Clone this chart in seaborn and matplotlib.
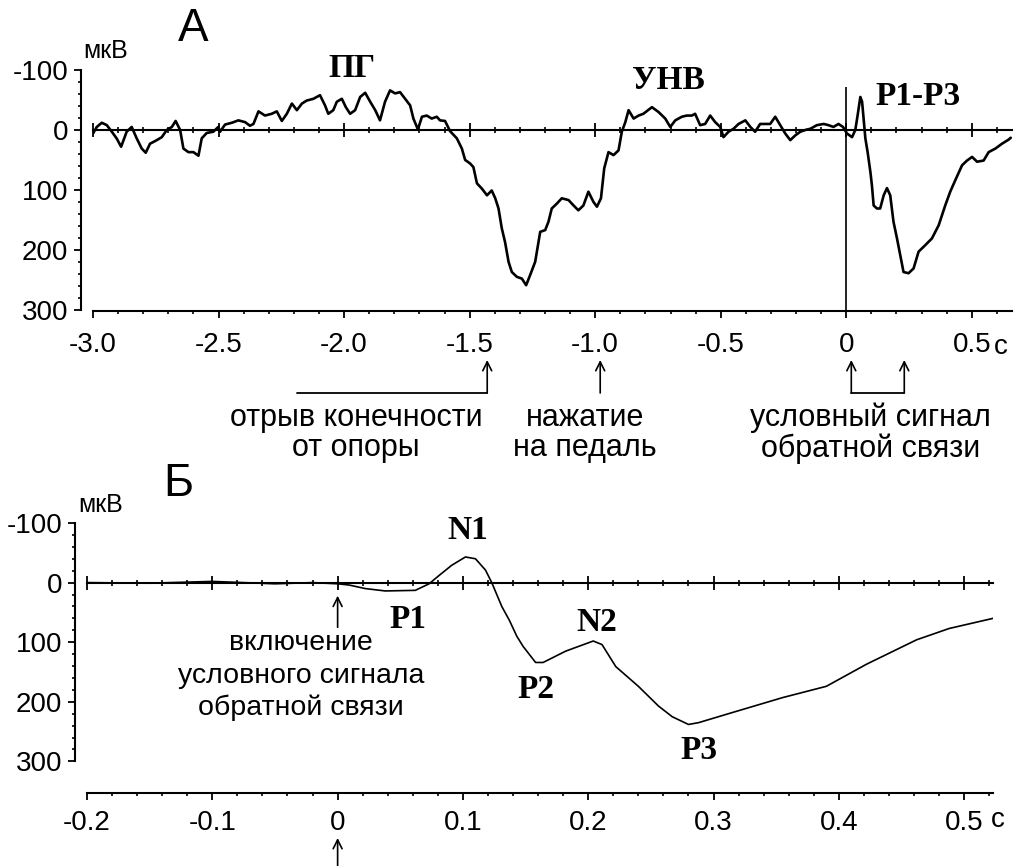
import matplotlib
matplotlib.use("Agg")
import matplotlib.pyplot as plt
import matplotlib.transforms as mtransforms
from matplotlib.ticker import MultipleLocator, FixedLocator
import pandas as pd
import seaborn as sns

# panel A: time (s) and potential (uV)
top_t = [-3.000, -2.985, -2.965, -2.945, -2.925, -2.906, -2.888, -2.866, -2.846, -2.826,
         -2.806, -2.790, -2.773, -2.746, -2.726, -2.706, -2.686, -2.671, -2.653, -2.640,
         -2.620, -2.600, -2.580, -2.567, -2.547, -2.521, -2.501, -2.494, -2.474, -2.447,
         -2.421, -2.394, -2.375, -2.361, -2.341, -2.315, -2.288, -2.268, -2.248, -2.228,
         -2.208, -2.188, -2.168, -2.149, -2.122, -2.096, -2.076, -2.063, -2.043, -2.029,
         -2.009, -1.993, -1.976, -1.956, -1.936, -1.916, -1.896, -1.876, -1.857, -1.837,
         -1.817, -1.797, -1.777, -1.757, -1.737, -1.724, -1.706, -1.690, -1.671, -1.651,
         -1.631, -1.618, -1.598, -1.578, -1.551, -1.531, -1.518, -1.498, -1.485, -1.471,
         -1.451, -1.431, -1.412, -1.398, -1.385, -1.372, -1.359, -1.345, -1.332, -1.312,
         -1.292, -1.275, -1.259, -1.239, -1.219, -1.199, -1.186, -1.173, -1.153, -1.133,
         -1.106, -1.086, -1.067, -1.047, -1.027, -1.007, -0.993, -0.977, -0.964, -0.947,
         -0.927, -0.907, -0.894, -0.880, -0.867, -0.847, -0.827, -0.808, -0.774, -0.748,
         -0.721, -0.701, -0.681, -0.655, -0.635, -0.615, -0.602, -0.582, -0.562, -0.542,
         -0.522, -0.502, -0.489, -0.469, -0.449, -0.429, -0.402, -0.382, -0.363, -0.343,
         -0.323, -0.303, -0.283, -0.263, -0.243, -0.223, -0.203, -0.183, -0.163, -0.143,
         -0.117, -0.090, -0.071, -0.051, -0.031, -0.013, 0.003, 0.023, 0.036, 0.045,
         0.056, 0.063, 0.069, 0.076, 0.085, 0.096, 0.102, 0.109, 0.122, 0.135,
         0.149, 0.162, 0.175, 0.188, 0.202, 0.215, 0.228, 0.248, 0.268, 0.288,
         0.315, 0.341, 0.368, 0.394, 0.414, 0.434, 0.461, 0.481, 0.501, 0.521,
         0.547, 0.567, 0.594, 0.620, 0.647, 0.655]
top_v = [6, -5, -12, -8, 3, 14, 28, 3, -5, 14,
         31, 38, 23, 17, 12, 0, -5, -15, 0, 31,
         37, 37, 43, 14, 5, 3, -5, 3, -9, -12,
         -16, -13, -7, -10, -31, -24, -27, -31, -15, -27,
         -44, -33, -44, -49, -52, -58, -41, -27, -33, -47,
         -52, -38, -27, -33, -55, -62, -47, -33, -16, -47,
         -66, -61, -63, -52, -41, -19, -1, -22, -24, -19,
         -22, -16, -15, 2, 14, 31, 50, 56, 62, 89,
         98, 109, 101, 114, 131, 164, 187, 220, 237, 245,
         248, 259, 242, 220, 170, 167, 153, 131, 123, 114,
         117, 126, 134, 126, 103, 120, 128, 114, 64, 37,
         42, 34, 3, -13, -33, -19, -24, -27, -38, -30,
         -19, -5, -16, -22, -24, -24, -27, -8, -10, -24,
         -13, -5, 12, 3, -2, -10, -16, -5, 3, -10,
         -10, -10, -22, -8, 6, 17, 9, 3, 0, -2,
         -8, -10, -8, -5, -10, -5, 6, 12, 0, -24,
         -55, -47, -19, 14, 37, 70, 92, 126, 131, 131,
         109, 97, 109, 153, 181, 209, 237, 239, 231, 203,
         192, 181, 159, 126, 103, 84, 59, 51, 45, 53,
         51, 37, 31, 23, 16, 13]

# panel B: averaged evoked response
bot_t = [-0.200, -0.150, -0.100, -0.050, -0.020, 0.000, 0.009, 0.022, 0.038, 0.062,
         0.073, 0.081, 0.091, 0.102, 0.110, 0.118, 0.123, 0.131, 0.137, 0.143,
         0.148, 0.158, 0.164, 0.182, 0.204, 0.211, 0.222, 0.240, 0.256, 0.267,
         0.280, 0.288, 0.315, 0.355, 0.390, 0.422, 0.462, 0.488, 0.523]
bot_v = [0, 1, -2, 2, 0, 2, 4, 10, 14, 13,
         2, -12, -29, -43, -40, -21, 0, 40, 63, 90,
         107, 134, 134, 115, 98, 104, 141, 174, 207, 225,
         238, 235, 218, 193, 174, 137, 96, 77, 60]

top_xticks = [-3.0, -2.5, -2.0, -1.5, -1.0, -0.5, 0.0, 0.5]
top_xlabels = ["-3.0", "-2.5", "-2.0", "-1.5", "-1.0", "-0.5", "0", "0.5"]
bot_xticks = [-0.2, -0.1, 0.0, 0.1, 0.2, 0.3, 0.4, 0.5]
bot_xlabels = ["-0.2", "-0.1", "0", "0.1", "0.2", "0.3", "0.4", "0.5"]
yticks = [-100, 0, 100, 200, 300]
ylabels = ["-100", "0", "100", "200", "300"]
yminor = list(range(-80, 300, 20))

sns.set_style("ticks")
plt.rcParams["font.family"] = ["Liberation Sans", "DejaVu Sans"]
plt.rcParams["text.color"] = "black"

W, H = 1030, 866
fig = plt.figure(figsize=(W / 100, H / 100), dpi=100)
ax1 = fig.add_axes([93 / W, 1 - 311 / H, 919 / W, 241 / H])
ax2 = fig.add_axes([87 / W, 1 - 793 / H, 906 / W, 270 / H])

df1 = pd.DataFrame({"t": top_t, "v": top_v})
df2 = pd.DataFrame({"t": bot_t, "v": bot_v})
sns.lineplot(data=df1, x="t", y="v", ax=ax1, color="black", lw=1.9,
             sort=False, estimator=None)
sns.lineplot(data=df2, x="t", y="v", ax=ax2, color="black", lw=1.2,
             sort=False, estimator=None)

serif = dict(family="Liberation Serif", fontweight="bold", fontsize=24)


def style_axis(ax, xlim, ylim, xticks, xlabels, xminor, xpad):
    ax.set_xlim(*xlim)
    ax.set_ylim(*ylim)
    ax.set_xlabel("")
    ax.set_ylabel("")
    for s in ["top", "right"]:
        ax.spines[s].set_visible(False)
    ax.spines["left"].set_position(("outward", 9))
    ax.spines["left"].set_bounds(-100, 300)
    for s in ["left", "bottom"]:
        ax.spines[s].set_linewidth(1.5)
        ax.spines[s].set_color("black")
    ax.set_yticks(yticks)
    ax.set_yticklabels(ylabels)
    ax.yaxis.set_minor_locator(FixedLocator(yminor))
    ax.set_xticks(xticks)
    ax.set_xticklabels(xlabels)
    ax.xaxis.set_minor_locator(MultipleLocator(xminor))
    ax.tick_params(axis="both", which="major", labelsize=20, width=1.3, length=5,
                   direction="out", colors="black", left=True, bottom=True)
    ax.tick_params(axis="y", which="major", pad=4)
    ax.tick_params(axis="x", which="major", pad=xpad)
    ax.tick_params(axis="both", which="minor", width=1.2, length=2.5,
                   direction="out", colors="black", left=True, bottom=True)
    # zero line with its own ticks
    frac = (ylim[0] - 0) / (ylim[0] - ylim[1])
    sec = ax.secondary_xaxis(frac)
    sec.spines["top"].set_linewidth(1.5)
    sec.spines["top"].set_color("black")
    sec.set_xticks(xticks)
    sec.xaxis.set_minor_locator(MultipleLocator(xminor))
    sec.tick_params(which="major", direction="inout", length=10, width=1.3,
                    labeltop=False, top=True, colors="black")
    sec.tick_params(which="minor", direction="inout", length=5, width=1.2,
                    top=True, colors="black")


style_axis(ax1, (-3.0, 0.66), (302, -100), top_xticks, top_xlabels, 0.1, 10)
style_axis(ax2, (-0.2, 0.523), (353, -100), bot_xticks, bot_xlabels, 0.02, 7)

# vertical marker at stimulus onset
ax1.vlines(0, -72, 302, color="black", lw=1.2)

# panel labels and units
ax1.text(-2.602, -168, "А", fontsize=33, ha="center", va="center")
ax1.text(-3.040, -132, "мкВ", fontsize=18, ha="left", va="center")
ax2.text(-0.127, -166, "Б", fontsize=33, ha="center", va="center")
ax2.text(-0.207, -131, "мкВ", fontsize=18, ha="left", va="center")
ax1.text(0.51, 312, "с", fontsize=20, ha="left", va="top",
         transform=mtransforms.offset_copy(ax1.transData, fig=fig, x=20, y=-17,
                                           units="dots"))
ax2.text(0.51, 353, "с", fontsize=20, ha="left", va="top",
         transform=mtransforms.offset_copy(ax2.transData, fig=fig, x=14, y=-14,
                                           units="dots"))

# component names
ax1.text(-1.968, -103, "ПГ", ha="center", va="center", **serif)
ax1.text(-0.709, -83, "УНВ", ha="center", va="center", **serif)
ax1.text(0.287, -55, "P1-P3", ha="center", va="center", **serif)
ax2.text(0.104, -87, "N1", ha="center", va="center", **serif)
ax2.text(0.056, 62, "P1", ha="center", va="center", **serif)
ax2.text(0.207, 67, "N2", ha="center", va="center", **serif)
ax2.text(0.158, 179, "P2", ha="center", va="center", **serif)
ax2.text(0.288, 281, "P3", ha="center", va="center", **serif)

# event arrows under panel A
tr1 = mtransforms.blended_transform_factory(ax1.transData, fig.transFigure)
arrow = dict(arrowstyle="->", color="black", lw=1.2, mutation_scale=16,
             shrinkA=0, shrinkB=0)
y_lo, y_hi = 1 - 393 / H, 1 - 360 / H
for xe in [-1.430, -0.980, 0.020, 0.231]:
    ax1.annotate("", xy=(xe, y_hi), xytext=(xe, y_lo), xycoords=tr1,
                 textcoords=tr1, arrowprops=arrow)
ax1.plot([-2.187, -1.430], [y_lo, y_lo], transform=tr1, color="black", lw=1.3,
         clip_on=False)
ax1.plot([0.020, 0.231], [y_lo, y_lo], transform=tr1, color="black", lw=1.3,
         clip_on=False)
note = dict(fontsize=22, ha="center", va="center", linespacing=1.0, transform=tr1)
ax1.text(-1.952, 1 - 433 / H, "отрыв конечности\nот опоры", **note)
ax1.text(-1.040, 1 - 433 / H, "нажатие\nна педаль", **note)
ax1.text(0.096, 1 - 433 / H, "условный сигнал\nобратной связи", **note)

# onset arrow in panel B
ax2.annotate("", xy=(0.0, 22), xytext=(0.0, 75), arrowprops=arrow)
onset_lines = ["включение", "условного сигнала", "обратной связи"]
for line, yv in zip(onset_lines, [102, 156, 210]):
    ax2.text(-0.029, yv, line, fontsize=20.5, ha="center", va="center")
tr2 = mtransforms.blended_transform_factory(ax2.transData, fig.transFigure)
ax2.annotate("", xy=(0.0, 1 - 838 / H), xytext=(0.0, 0.0), xycoords=tr2,
             textcoords=tr2, arrowprops=arrow)

fig.savefig("out.png", dpi=100, facecolor="white")
